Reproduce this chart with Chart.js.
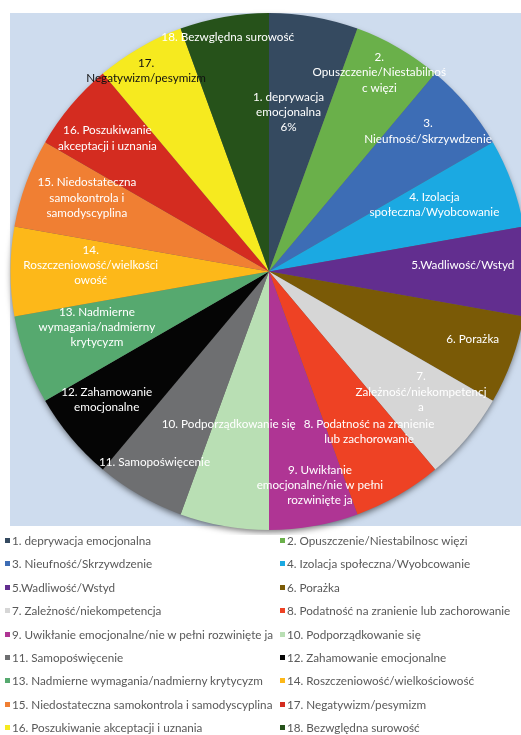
<!DOCTYPE html>
<html>
<head>
<meta charset="utf-8">
<script src="https://cdn.jsdelivr.net/npm/chart.js@4"></script>
<style>
  html, body { margin: 0; padding: 0; background: #fff; overflow: hidden; width: 521px; height: 735px; }
  #wrap { position: absolute; left: 0; top: 0; width: 521px; height: 735px; overflow: hidden; }
  #chartBox { position: absolute; left: 0; top: 0; width: 545px; height: 535px; }
  #legend { position: absolute; left: 0; top: 529px; width: 521px; font-family: Lato, "Open Sans", sans-serif; font-size: 11.7px; color: #595959; }
  .li { position: absolute; height: 23.4px; line-height: 23.4px; white-space: nowrap; }
  .sq { position: absolute; top: 9px; width: 5px; height: 5px; }
  .tx { position: absolute; left: 7px; top: 0; }
</style>
</head>
<body>
<div id="wrap">
  <div id="chartBox"><canvas id="c" width="545" height="535"></canvas></div>
  <div id="legend"></div>
</div>
<script>
// Legend labels, one per slice (in slice order)
const categories = [
  "1. deprywacja emocjonalna",
  "2. Opuszczenie/Niestabilnosc więzi",
  "3. Nieufność/Skrzywdzenie",
  "4. Izolacja społeczna/Wyobcowanie",
  "5.Wadliwość/Wstyd",
  "6. Porażka",
  "7. Zależność/niekompetencja",
  "8. Podatność na zranienie lub zachorowanie",
  "9. Uwikłanie emocjonalne/nie w pełni rozwinięte ja",
  "10. Podporządkowanie się",
  "11. Samopoświęcenie",
  "12. Zahamowanie emocjonalne",
  "13. Nadmierne wymagania/nadmierny krytycyzm",
  "14. Roszczeniowość/wielkościowość",
  "15. Niedostateczna samokontrola i samodyscyplina",
  "17. Negatywizm/pesymizm",
  "16. Poszukiwanie akceptacji i uznania",
  "18. Bezwględna surowość"
];

// Slice values (equal shares)
const values = [1,1,1,1,1,1,1,1,1,1,1,1,1,1,1,1,1,1];

// Text written on the slices (as in the picture)
const sliceLabels = [
  ["1. deprywacja", "emocjonalna", "6%"],
  ["2.", "Opuszczenie/Niestabilnoś", "c więzi"],
  ["3.", "Nieufność/Skrzywdzenie"],
  ["4. Izolacja", "społeczna/Wyobcowanie"],
  ["5.Wadliwość/Wstyd"],
  ["6. Porażka"],
  ["7.", "Zależność/niekompetencj", "a"],
  ["8. Podatność na zranienie", "lub zachorowanie"],
  ["9. Uwikłanie", "emocjonalne/nie w pełni", "rozwinięte ja"],
  ["10. Podporządkowanie się"],
  ["11. Samopoświęcenie"],
  ["12. Zahamowanie", "emocjonalne"],
  ["13. Nadmierne", "wymagania/nadmierny", "krytycyzm"],
  ["14.", "Roszczeniowość/wielkości", "owość"],
  ["15. Niedostateczna", "samokontrola i", "samodyscyplina"],
  ["16. Poszukiwanie", "akceptacji i uznania"],
  ["17.", "Negatywizm/pesymizm"],
  ["18. Bezwględna surowość"]
];

const colors = [
  "#354a60", "#6ab04a", "#3d6db5", "#1ba9e2", "#622e8f", "#7a5a06",
  "#d6d6d6", "#ee4224", "#af3594", "#b9dfb4", "#6e6f71", "#050505",
  "#56a96f", "#fdb819", "#f07f33", "#d42c20", "#f6ea1f", "#26521a"
];

// label placement (fraction of radius, angle shift in degrees) and text colour per slice
const labelRadiusFrac = [0.62,0.88,0.82,0.69,0.75,0.83,0.75,0.73,0.85,0.61,0.86,0.80,0.70,0.69,0.76,0.81,0.91,0.92];
const labelAngleShift = [-3,-1,-1.4,-2,-2,-1.7,-1.6,-2,-3.4,4.8,1,1.7,2,2,2,-0.5,-1.5,0];
const labelColors = colors.map((c, i) => i === 16 ? "#111111" : "#ffffff");

const bgPlugin = {
  id: 'bgPlugin',
  beforeDraw(chart) {
    const ctx = chart.ctx;
    ctx.save();
    ctx.fillStyle = '#cedcee';
    ctx.fillRect(10, 13, chart.width - 10, 513);
    ctx.restore();
  },
  beforeDatasetsDraw(chart) {
    const arc = chart.getDatasetMeta(0).data[0];
    if (!arc) return;
    const ctx = chart.ctx;
    ctx.save();
    ctx.shadowColor = 'rgba(0,0,0,0.55)';
    ctx.shadowBlur = 6;
    ctx.shadowOffsetY = 3;
    ctx.fillStyle = '#666';
    ctx.beginPath();
    ctx.arc(arc.x, arc.y, arc.outerRadius - 1, 0, Math.PI * 2);
    ctx.fill();
    ctx.restore();
  }
};

const labelPlugin = {
  id: 'sliceText',
  afterDatasetsDraw(chart) {
    const ctx = chart.ctx;
    const arcs = chart.getDatasetMeta(0).data;
    ctx.save();
    ctx.font = '11.7px Lato, "Open Sans", sans-serif';
    ctx.textAlign = 'center';
    ctx.textBaseline = 'middle';
    arcs.forEach((a, i) => {
      const ang = (a.startAngle + a.endAngle) / 2 + labelAngleShift[i] * Math.PI / 180;
      const r = a.outerRadius * labelRadiusFrac[i];
      const cx = a.x + Math.cos(ang) * r;
      const cy = a.y + Math.sin(ang) * r;
      const lines = sliceLabels[i];
      const lh = 15.2;
      ctx.fillStyle = labelColors[i];
      lines.forEach((t, k) => {
        ctx.fillText(t, cx, cy + (k - (lines.length - 1) / 2) * lh);
      });
    });
    ctx.restore();
  }
};

const chart = new Chart(document.getElementById('c'), {
  type: 'pie',
  data: {
    labels: categories,
    datasets: [{ data: values, backgroundColor: colors, borderWidth: 0, hoverOffset: 0 }]
  },
  options: {
    responsive: false,
    animation: false,
    layout: { padding: { left: 10.5, top: 13, right: 17.5, bottom: 5 } },
    plugins: { legend: { display: false }, tooltip: { enabled: false } },
    events: []
  },
  plugins: [bgPlugin, labelPlugin]
});

// HTML legend in two columns, built from the chart data
const legend = document.getElementById('legend');
chart.data.labels.forEach((lab, i) => {
  const row = Math.floor(i / 2), col = i % 2;
  const d = document.createElement('div');
  d.className = 'li';
  d.style.top = (row * 23.4) + 'px';
  d.style.left = (col === 0 ? 5 : 280) + 'px';
  const sq = document.createElement('span');
  sq.className = 'sq';
  sq.style.background = chart.data.datasets[0].backgroundColor[i];
  const tx = document.createElement('span');
  tx.className = 'tx';
  tx.textContent = lab;
  d.appendChild(sq); d.appendChild(tx);
  legend.appendChild(d);
});
</script>
</body>
</html>
